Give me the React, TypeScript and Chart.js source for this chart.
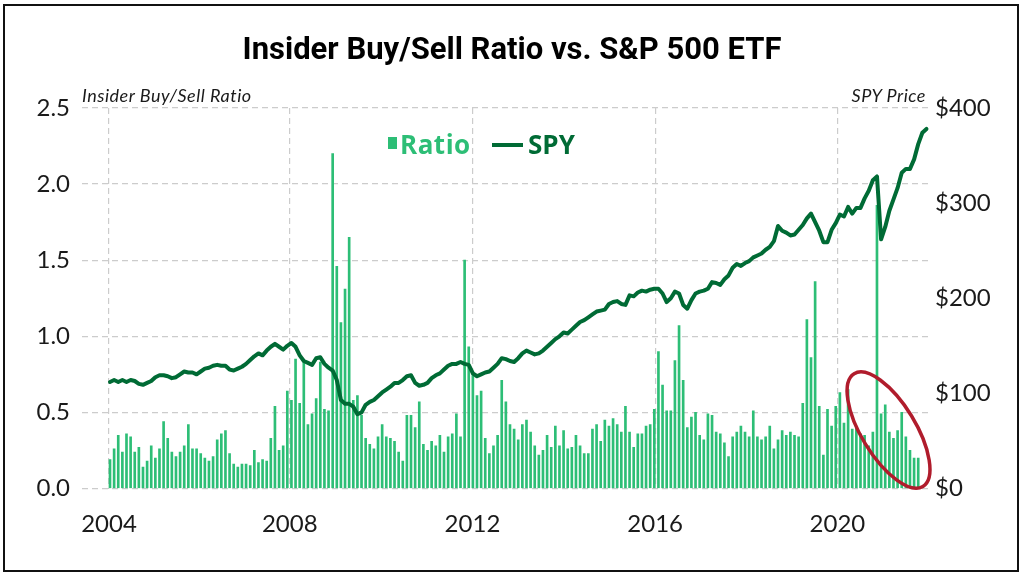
import React, { useEffect, useRef } from 'react';
import { Chart, registerables } from 'chart.js';

Chart.register(...registerables);

// Insider buy/sell ratio, one value per period (bars)
const ratio: number[] = [
  0.19, 0.26, 0.35, 0.24, 0.36, 0.34, 0.24, 0.27, 0.14, 0.18,
  0.28, 0.20, 0.26, 0.44, 0.33, 0.24, 0.21, 0.24, 0.28, 0.42,
  0.26, 0.26, 0.23, 0.20, 0.18, 0.21, 0.32, 0.36, 0.38, 0.23,
  0.16, 0.14, 0.16, 0.16, 0.15, 0.25, 0.17, 0.19, 0.18, 0.33,
  0.54, 0.25, 0.28, 0.64, 0.58, 0.85, 0.56, 0.83, 0.42, 0.49,
  0.59, 0.83, 0.52, 0.51, 2.20, 1.46, 1.09, 1.31, 1.65, 0.58,
  0.61, 0.48, 0.33, 0.29, 0.26, 0.34, 0.42, 0.34, 0.33, 0.31,
  0.24, 0.18, 0.48, 0.48, 0.40, 0.57, 0.29, 0.25, 0.31, 0.28,
  0.35, 0.24, 0.34, 0.36, 0.49, 0.34, 1.50, 0.93, 0.75, 0.61,
  0.64, 0.33, 0.23, 0.28, 0.35, 0.71, 0.57, 0.42, 0.39, 0.32,
  0.42, 0.45, 0.37, 0.28, 0.22, 0.25, 0.35, 0.27, 0.41, 0.28,
  0.38, 0.26, 0.27, 0.35, 0.28, 0.23, 0.23, 0.39, 0.42, 0.31,
  0.45, 0.41, 0.46, 0.42, 0.37, 0.54, 0.37, 0.27, 0.36, 0.36,
  0.41, 0.42, 0.52, 0.90, 0.68, 0.51, 0.51, 0.84, 1.07, 0.71,
  0.40, 0.47, 0.50, 0.35, 0.32, 0.49, 0.48, 0.37, 0.36, 0.30,
  0.21, 0.34, 0.37, 0.41, 0.37, 0.34, 0.51, 0.34, 0.32, 0.34,
  0.41, 0.26, 0.32, 0.38, 0.35, 0.37, 0.35, 0.34, 0.56, 1.11,
  0.86, 1.36, 0.54, 0.22, 0.52, 0.41, 0.54, 0.63, 0.43, 0.65,
  0.39, 0.40, 0.36, 0.35, 0.28, 0.37, 1.86, 0.49, 0.55, 0.37,
  0.33, 0.38, 0.50, 0.34, 0.25, 0.20, 0.20,
];

// SPY price, same periods (line runs two periods longer)
const spy: number[] = [
  112, 114, 112, 114, 112, 114, 113, 110, 109, 111,
  113, 117, 119, 119, 118, 116, 117, 120, 123, 122,
  122, 120, 123, 126, 127, 129, 130, 129, 129, 125,
  124, 126, 128, 131, 135, 139, 142, 140, 145, 149,
  152, 149, 146, 150, 153, 149, 140, 134, 132, 130,
  137, 138, 131, 127, 124, 114, 93, 89, 89, 86,
  78, 80, 88, 91, 93, 97, 101, 104, 107, 111,
  111, 114, 118, 119, 111, 108, 109, 111, 116, 119,
  121, 125, 129, 131, 131, 133, 131, 130, 121, 118,
  120, 122, 123, 127, 131, 137, 136, 134, 133, 137,
  142, 145, 143, 141, 142, 145, 149, 153, 157, 160,
  164, 163, 167, 171, 175, 177, 180, 183, 186, 187,
  188, 194, 196, 197, 194, 193, 203, 202, 206, 208,
  207, 209, 210, 210, 205, 196, 200, 207, 205, 193,
  189, 198, 205, 207, 208, 210, 217, 216, 214, 220,
  224, 232, 236, 234, 237, 239, 243, 245, 247, 251,
  254, 260, 276, 271, 269, 266, 267, 272, 277, 284,
  289, 280, 271, 259, 259, 272, 279, 288, 286, 296,
  289, 295, 295, 305, 313, 324, 328, 262, 275, 292,
  304, 316, 332, 336, 336, 346, 362, 374, 378,
];

const yearLabels: string[] = ['2004', '2008', '2012', '2016', '2020'];
const yearTickIndex: number[] = [-0.25, 43.6, 87.9, 132.2, 176.4];

// red highlight ellipse, in data units (period index, ratio)
const highlight = { centerIndex: 188.8, centerRatio: 0.384, rx: 66, ry: 27, angleDeg: 58.6 };

const BAR_GREEN = '#2dbe76';
const LINE_GREEN = '#006b35';
const GRID = '#cccccc';
const TICK_FONT = { family: 'Lato', size: 24, weight: '400' as any };

const ellipsePlugin = {
  id: 'highlightEllipse',
  afterDatasetsDraw(chart: any) {
    const { ctx, scales } = chart;
    const cx = scales.x.getPixelForValue(highlight.centerIndex);
    const cy = scales.y.getPixelForValue(highlight.centerRatio);
    ctx.save();
    ctx.beginPath();
    ctx.ellipse(cx, cy, highlight.rx, highlight.ry, (highlight.angleDeg * Math.PI) / 180, 0, Math.PI * 2);
    ctx.strokeStyle = '#b01c2c';
    ctx.lineWidth = 3.5;
    ctx.stroke();
    ctx.restore();
  },
};

export default function App() {
  const ref = useRef<HTMLCanvasElement | null>(null);

  useEffect(() => {
    if (!ref.current) return;
    const chart = new Chart(ref.current, {
      type: 'bar',
      data: {
        datasets: [
          {
            type: 'line',
            label: 'SPY',
            data: spy.map((v, i) => ({ x: i, y: v })),
            yAxisID: 'y1',
            borderColor: LINE_GREEN,
            borderWidth: 4,
            pointRadius: 0,
            tension: 0,
            borderJoinStyle: 'round',
            borderCapStyle: 'round',
            order: 0,
          } as any,
          {
            type: 'bar',
            label: 'Ratio',
            data: ratio.map((v, i) => ({ x: i, y: v })),
            yAxisID: 'y',
            backgroundColor: BAR_GREEN,
            barThickness: 2,
            order: 1,
          } as any,
        ],
      },
      options: {
        animation: false,
        responsive: false,
        maintainAspectRatio: false,
        layout: { padding: { top: 108, left: 0, right: 0, bottom: 0 } },
        plugins: { legend: { display: false }, tooltip: { enabled: false }, title: { display: false } },
        scales: {
          x: {
            type: 'linear',
            offset: false,
            min: -6.79,
            max: 199.1,
            afterBuildTicks: (axis: any) => {
              axis.ticks = yearTickIndex.map((v) => ({ value: v }));
            },
            afterFit: (s: any) => {
              s.height = 87.5;
            },
            ticks: {
              callback: (_v: any, idx: number) => yearLabels[idx],
              font: TICK_FONT,
              color: '#1a1a1a',
              padding: 21,
              autoSkip: false,
              maxRotation: 0,
            },
            grid: { color: GRID, lineWidth: 1.2, drawTicks: false, offset: false },
            border: { display: false, dash: [6, 4] },
          },
          y: {
            position: 'left',
            min: 0,
            max: 2.5,
            afterFit: (s: any) => {
              s.width = 82;
            },
            ticks: {
              stepSize: 0.5,
              callback: (v: any) => Number(v).toFixed(1),
              font: TICK_FONT,
              color: '#1a1a1a',
              padding: 12,
            },
            grid: { color: GRID, lineWidth: 1.2, drawTicks: false },
            border: { display: false, dash: [6, 4] },
          },
          y1: {
            position: 'right',
            min: 0,
            max: 400,
            afterFit: (s: any) => {
              s.width = 93;
            },
            ticks: {
              stepSize: 100,
              callback: (v: any) => '$' + v,
              font: TICK_FONT,
              color: '#1a1a1a',
              padding: 4,
            },
            grid: { display: false, drawTicks: false },
            border: { display: false },
          },
        },
      },
      plugins: [ellipsePlugin],
    } as any);
    return () => chart.destroy();
  }, []);

  return (
    <div style={{ position: 'fixed', left: 0, top: 0, width: 1024, height: 576, background: '#fff', overflow: 'hidden' }}>
      <canvas ref={ref} width={1024} height={576} style={{ position: 'absolute', left: 0, top: 0, width: 1024, height: 576 }} />
      <div
        style={{
          position: 'absolute', left: 3, top: 4, width: 1016, height: 568,
          border: '2px solid #111', boxSizing: 'border-box', pointerEvents: 'none',
        }}
      />
      <div
        style={{
          position: 'absolute', left: 0, top: 30, width: 1024, textAlign: 'center',
          font: '700 31px Roboto, sans-serif', color: '#000', whiteSpace: 'nowrap',
        }}
      >
        Insider Buy/Sell Ratio vs. S&amp;P 500 ETF
      </div>
      <div style={{ position: 'absolute', left: 82, top: 84, font: 'italic 400 18px Lato, sans-serif', letterSpacing: 0.5, color: '#1a1a1a', whiteSpace: 'nowrap' }}>
        Insider Buy/Sell Ratio
      </div>
      <div style={{ position: 'absolute', right: 1024 - 926, top: 84, font: 'italic 400 18px Lato, sans-serif', letterSpacing: 0.5, color: '#1a1a1a', whiteSpace: 'nowrap' }}>
        SPY Price
      </div>
      <div style={{ position: 'absolute', left: 388, top: 137, width: 9, height: 12, background: BAR_GREEN }} />
      <div style={{ position: 'absolute', left: 400, top: 126, font: '700 26px "Open Sans", sans-serif', letterSpacing: 0.5, color: BAR_GREEN, whiteSpace: 'nowrap' }}>
        Ratio
      </div>
      <div style={{ position: 'absolute', left: 492, top: 143, width: 31, height: 4, background: LINE_GREEN }} />
      <div style={{ position: 'absolute', left: 528, top: 126, font: '700 26px "Open Sans", sans-serif', color: LINE_GREEN, whiteSpace: 'nowrap' }}>
        SPY
      </div>
    </div>
  );
}
